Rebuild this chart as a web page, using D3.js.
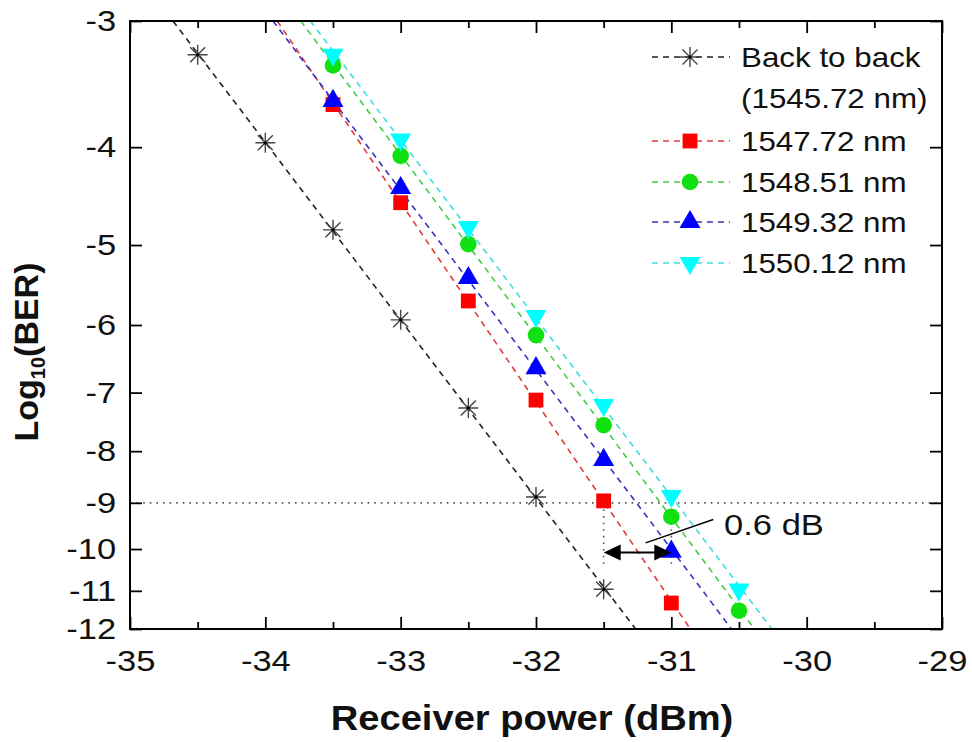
<!DOCTYPE html>
<html>
<head>
<meta charset="utf-8">
<script src="https://cdn.jsdelivr.net/npm/d3@7"></script>
<style>
  body { margin: 0; background: #fff; }
  text { font-family: "Liberation Sans", Arial, sans-serif; fill: #111; }
</style>
</head>
<body>
<div id="chart"></div>
<script>
/* DATA */
const xTicks = [-35, -34, -33, -32, -31, -30, -29];
const xMinorTicks = [-34.5, -33.5, -32.5, -31.5, -30.5, -29.5];
const yTicks = [-3, -4, -5, -6, -7, -8, -9, -10, -11, -12];

const powerB2B = [-34.5, -34, -33.5, -33, -32.5, -32, -31.5];
const berB2B = [-3.24, -3.96, -4.83, -5.93, -7.25, -8.88, -10.96];
const power1547 = [-33.5, -33, -32.5, -32, -31.5, -31];
const ber1547 = [-3.63, -4.54, -5.68, -7.12, -8.96, -11.31];
const power1548 = [-33.5, -33, -32.5, -32, -31.5, -31, -30.5];
const ber1548 = [-3.32, -4.08, -4.99, -6.14, -7.54, -9.29, -11.51];
const power1549 = [-34, -33.5, -33, -32.5, -32, -31.5, -31];
const ber1549 = [-2.95, -3.60, -4.39, -5.39, -6.62, -8.16, -10.06];
const power1550 = [-33.5, -33, -32.5, -32, -31.5, -31, -30.5];
const ber1550 = [-3.24, -3.93, -4.80, -5.88, -7.20, -8.86, -10.97];

const seriesNames = ["Back to back", "1547.72 nm", "1548.51 nm", "1549.32 nm", "1550.12 nm"];
const b2bSubName = "(1545.72 nm)";

// annotation values
const berLimit = -9;
const gapFrom = -31.5, gapTo = -31;
const arrowBer = -10.08, dropEndBer = -10.42;
const leaderStart = [-31.19, -9.86], leaderEnd = [-30.69, -9.35];
const gapLabel = "0.6 dB", gapLabelPos = [-30.61, -9.69];

/* CONSTANTS */
const width = 972, height = 742;
const margin = { top: 21, right: 30, bottom: 113, left: 130 };
const SX = 1.12; // source image is a bit stretched sideways
const SXT = 1.15; // tick labels look a little wider still

const series = [
  { name: seriesNames[0], px: powerB2B, ber: berB2B, shape: "star", fill: "#333", line: "#222" },
  { name: seriesNames[1], px: power1547, ber: ber1547, shape: "square", fill: "#ff0000", line: "#e03c3c" },
  { name: seriesNames[2], px: power1548, ber: ber1548, shape: "circle", fill: "#11e011", line: "#44cc44" },
  { name: seriesNames[3], px: power1549, ber: ber1549, shape: "up", fill: "#0000ff", line: "#3434c0" },
  { name: seriesNames[4], px: power1550, ber: ber1550, shape: "down", fill: "#00ffff", line: "#3cdede" }
];

/* SCALES */
const xScale = d3.scaleLinear().domain([-35, -29]).range([margin.left, width - margin.right]);
// BER axis: log of -log10(BER)
const yLog = d3.scaleLog().domain([3, 12]).range([margin.top, height - margin.bottom]);
const yScale = v => yLog(-v);

const svg = d3.select("#chart").append("svg")
  .attr("width", width)
  .attr("height", height);

svg.append("defs").append("clipPath").attr("id", "plotClip")
  .append("rect")
  .attr("x", margin.left).attr("y", margin.top)
  .attr("width", width - margin.left - margin.right)
  .attr("height", height - margin.top - margin.bottom);

const plot = svg.append("g").attr("clip-path", "url(#plotClip)");

/* MARKERS */
function drawMarker(g, shape, fill) {
  if (shape === "star") {
    const r = 10, d = 7.5;
    g.append("path")
      .attr("d", `M${-r},0H${r}M0,${-r}V${r}M${-d},${-d}L${d},${d}M${-d},${d}L${d},${-d}`)
      .attr("stroke", "#444").attr("stroke-width", 1.4).attr("fill", "none");
    g.append("circle").attr("r", 1.6).attr("fill", "#000");
  } else if (shape === "square") {
    g.append("path").attr("d", d3.symbol(d3.symbolSquare, 220)()).attr("fill", fill);
  } else if (shape === "circle") {
    g.append("circle").attr("r", 8.3).attr("fill", fill);
  } else {
    g.append("path")
      .attr("d", d3.symbol(d3.symbolTriangle, 190)())
      .attr("transform", shape === "down" ? "rotate(180)" : null)
      .attr("fill", fill);
  }
}

/* ANNOTATION LINES (under the data) */
plot.append("line")
  .attr("x1", xScale(-35)).attr("x2", xScale(-29))
  .attr("y1", yScale(berLimit)).attr("y2", yScale(berLimit))
  .attr("stroke", "#555").attr("stroke-width", 1.6).attr("stroke-dasharray", "1.6,5");

[gapFrom, gapTo].forEach(p => {
  plot.append("line")
    .attr("x1", xScale(p)).attr("x2", xScale(p))
    .attr("y1", yScale(berLimit)).attr("y2", yScale(dropEndBer))
    .attr("stroke", "#555").attr("stroke-width", 1.6).attr("stroke-dasharray", "1.6,5");
});

/* FIT LINES */
series.forEach(s => {
  const pts = s.px.map((p, i) => [xScale(p), yScale(s.ber[i])]);
  const mx = d3.mean(pts, d => d[0]), my = d3.mean(pts, d => d[1]);
  const slope = d3.sum(pts, d => (d[0] - mx) * (d[1] - my)) / d3.sum(pts, d => (d[0] - mx) ** 2);
  const xAt = yy => mx + (yy - my) / slope;
  const yTop = margin.top, yBot = height - margin.bottom;
  plot.append("line")
    .attr("x1", xAt(yTop)).attr("y1", yTop)
    .attr("x2", xAt(yBot)).attr("y2", yBot)
    .attr("stroke", s.line).attr("stroke-width", 1.6)
    .attr("stroke-dasharray", "6,5");
});

/* DATA POINTS */
series.forEach(s => {
  s.px.forEach((p, i) => {
    const g = plot.append("g").attr("transform", `translate(${xScale(p)},${yScale(s.ber[i])})`);
    drawMarker(g, s.shape, s.fill);
  });
});

/* DOUBLE ARROW + LABEL */
const ay = yScale(arrowBer), ax1 = xScale(gapFrom), ax2 = xScale(gapTo);
svg.append("line")
  .attr("x1", ax1 + 12).attr("x2", ax2 - 12).attr("y1", ay).attr("y2", ay)
  .attr("stroke", "#000").attr("stroke-width", 2);
svg.append("path")
  .attr("d", `M${ax1},${ay}L${ax1 + 17},${ay - 8}L${ax1 + 17},${ay + 8}Z`)
  .attr("fill", "#000");
svg.append("path")
  .attr("d", `M${ax2},${ay}L${ax2 - 17},${ay - 8}L${ax2 - 17},${ay + 8}Z`)
  .attr("fill", "#000");
svg.append("line")
  .attr("x1", xScale(leaderStart[0])).attr("y1", yScale(leaderStart[1]))
  .attr("x2", xScale(leaderEnd[0])).attr("y2", yScale(leaderEnd[1]))
  .attr("stroke", "#000").attr("stroke-width", 1.5);
svg.append("text")
  .attr("transform", `translate(${xScale(gapLabelPos[0])},${yScale(gapLabelPos[1])}) scale(${SXT},1)`)
  .attr("font-size", 30)
  .text(gapLabel);

/* AXES */
const innerH = height - margin.top - margin.bottom;
const innerW = width - margin.left - margin.right;

const xAxisGroup = svg.append("g")
  .attr("transform", `translate(0,${height - margin.bottom})`)
  .call(d3.axisBottom(xScale).tickValues(xTicks).tickSizeInner(-12).tickSizeOuter(0).tickPadding(21));
xAxisGroup.selectAll("text")
  .attr("font-size", 30)
  .attr("transform", `scale(${SXT},1)`)
  .text(d => d);

svg.append("g")
  .attr("transform", `translate(0,${height - margin.bottom})`)
  .call(d3.axisBottom(xScale).tickValues(xMinorTicks).tickSizeInner(-7).tickSizeOuter(0).tickFormat(""));
svg.append("g")
  .attr("transform", `translate(0,${margin.top})`)
  .call(d3.axisTop(xScale).tickValues(xTicks).tickSizeInner(-12).tickSizeOuter(0).tickFormat(""));
svg.append("g")
  .attr("transform", `translate(0,${margin.top})`)
  .call(d3.axisTop(xScale).tickValues(xMinorTicks).tickSizeInner(-7).tickSizeOuter(0).tickFormat(""));

const yAxisGroup = svg.append("g")
  .attr("transform", `translate(${margin.left},0)`)
  .call(d3.axisLeft(yLog).tickValues(yTicks.map(v => -v)).tickSizeInner(-12).tickSizeOuter(0).tickPadding(12)
    .tickFormat(d => -d));
yAxisGroup.selectAll("text")
  .attr("font-size", 30)
  .attr("transform", `scale(${SXT},1)`);

svg.append("g")
  .attr("transform", `translate(${width - margin.right},0)`)
  .call(d3.axisRight(yLog).tickValues(yTicks.map(v => -v)).tickSizeInner(-12).tickSizeOuter(0).tickFormat(""));

svg.selectAll(".domain").remove();
svg.selectAll(".tick line").attr("stroke", "#000").attr("stroke-width", 1.8);
svg.selectAll(".tick text").attr("fill", "#111").attr("font-family", "Liberation Sans, Arial, sans-serif");

svg.append("rect")
  .attr("x", margin.left).attr("y", margin.top)
  .attr("width", innerW).attr("height", innerH)
  .attr("fill", "none").attr("stroke", "#000").attr("stroke-width", 2);

/* AXIS TITLES */
svg.append("text")
  .attr("transform", `translate(${(margin.left + width - margin.right) / 2 - 4},730) scale(1.09,1)`)
  .attr("text-anchor", "middle")
  .attr("font-size", 35)
  .attr("font-weight", "bold")
  .text("Receiver power (dBm)");

const yTitle = svg.append("text")
  .attr("transform", `translate(38,352) rotate(-90)`)
  .attr("text-anchor", "middle")
  .attr("font-size", 34)
  .attr("font-weight", "bold");
yTitle.append("tspan").text("Log");
yTitle.append("tspan").attr("font-size", 20).attr("dy", 7).text("10");
yTitle.append("tspan").attr("dy", -7).text("(BER)");

/* LEGEND */
const legendRows = [67, 151, 192, 232, 273];
const legend = svg.append("g");
series.forEach((s, i) => {
  const yy = legendRows[i] - 10;
  const g = legend.append("g");
  g.append("line")
    .attr("x1", 652).attr("x2", 730).attr("y1", yy).attr("y2", yy)
    .attr("stroke", s.line).attr("stroke-width", 1.6).attr("stroke-dasharray", "6,5");
  const m = g.append("g").attr("transform", `translate(690,${yy})`);
  drawMarker(m, s.shape, s.fill);
  g.append("text")
    .attr("transform", `translate(741,${legendRows[i]}) scale(${SX},1)`)
    .attr("font-size", 28)
    .text(s.name);
});
legend.append("text")
  .attr("transform", `translate(741,108) scale(${SX},1)`)
  .attr("font-size", 28)
  .text(b2bSubName);
</script>
</body>
</html>
